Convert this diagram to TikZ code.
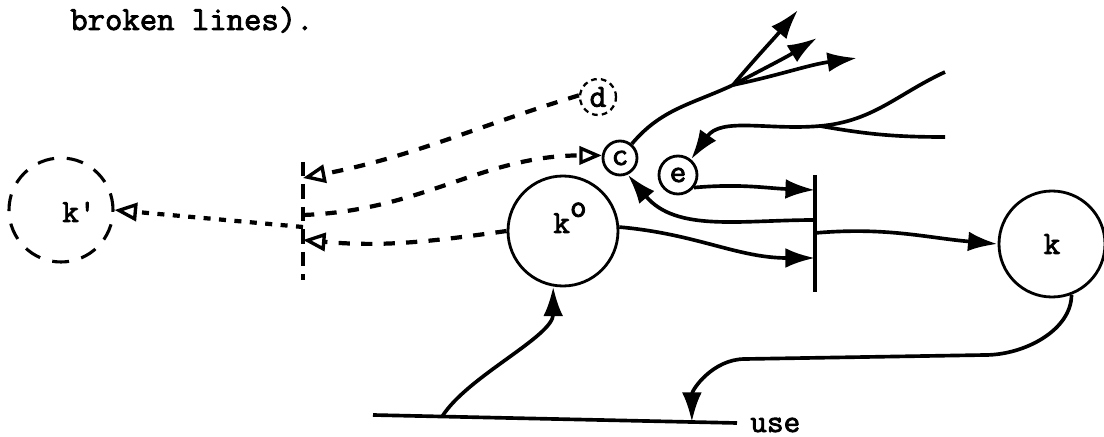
\documentclass[tikz,border=0pt]{standalone}
\usepackage{fontspec}
\newfontfamily\typer{Latin Modern Mono}[FakeBold=2.5]
\usetikzlibrary{arrows.meta}

\begin{document}
\begin{tikzpicture}[x=0.25mm, y=0.25mm,
    every node/.style={font=\typer\fontsize{23}{27}\selectfont},
    pool/.style={circle, draw, line width=2pt, inner sep=0pt},
    ghost/.style={circle, draw, line width=2.2pt, inner sep=0pt, dash pattern=on 12pt off 9pt},
    wire/.style={line width=2.6pt},
    flow/.style={line width=2.6pt, -{Latex[length=21pt, width=14pt]}},
    info/.style={line width=3pt, dash pattern=on 8pt off 8pt,
                 -{Triangle[open, length=16pt, width=13pt, line width=2.4pt]}}]
    \useasboundingbox (0,0) rectangle (1104,437);

    \node[anchor=base west, inner sep=0pt, font=\typer\fontsize{24}{28}\selectfont]
         (caption) at (70,407) {broken lines).};

    % stocks
    \node[ghost, minimum size=26mm] (kp) at (61,227) {};
    \node[anchor=base west, inner sep=0pt] (kptext) at (62,215) {k\textquotesingle};
    \node[pool, minimum size=27.5mm] (k0) at (563,206) {};
    \node[anchor=base, inner sep=0pt] (k0text) at (570,204) {k\raisebox{0.5em}{o}};
    \node[pool, minimum size=26.5mm] (k) at (1052,193) {k};
    % small processes
    \node[pool, minimum size=8.5mm] (c) at (620,279) {c};
    \node[ghost, minimum size=9mm, line width=1.6pt, dash pattern=on 4pt off 3pt] (d) at (598,340) {d};
    \node[pool, minimum size=9.5mm] (e) at (678,262) {e};

    % bars
    \coordinate (lbtop) at (303,275);
    \coordinate (lbbot) at (303,157);
    \coordinate (lb1)  at (303,259);
    \coordinate (lb2)  at (303,222);
    \coordinate (lb2l) at (303,210);
    \coordinate (lb3)  at (303,197);
    \coordinate (rbtop) at (815,262);
    \coordinate (rbbot) at (815,145);
    \coordinate (rb1) at (815,247);
    \coordinate (rb2) at (815,217);
    \coordinate (rb3) at (815,204);
    \coordinate (rb4) at (815,179);
    \draw[line width=2.6pt, dash pattern=on 10pt off 6pt] (lbtop) -- (lbbot);
    \draw[wire] (rbtop) -- (rbbot);

    % broken lines
    \draw[info] (d.175) to[out=197, in=11] (lb1);
    \draw[info] (lb2) to[out=2, in=180] (c.172);
    \draw[info] (k0.west) to[out=188, in=-5] (lb3);
    \draw[info, dash pattern=on 5pt off 6pt] (lb2l) -- (kp.east);

    % outputs of c
    \coordinate (split) at (733,352);
    \coordinate (b1) at (798,427);
    \coordinate (b2) at (817,399);
    \coordinate (b3) at (857,379);
    \draw[wire] (c.50) to[out=50, in=205] (split);
    \draw[flow] (split) to[out=50, in=230] (b1);
    \draw[flow] (split) to[out=28, in=212] (b2);
    \draw[flow] (split) to[out=12, in=188] (b3);

    % inputs of e
    \coordinate (in1) at (945,365);
    \coordinate (in2) at (945,300);
    \coordinate (merge) at (820,311);
    \draw[flow] (in1) to[out=205, in=5] (merge) to[out=185, in=55] (e.50);
    \draw[wire] (in2) to[out=180, in=-10] (merge);

    \draw[flow] (e.-38) to[out=5, in=178] (rb1);
    \draw[flow] (rb2) to[out=180, in=-50] (c.-65);
    \draw[flow] (k0.4) to[out=-5, in=180] (rb4);
    \draw[flow] (rb3) to[out=5, in=175] (k.west);

    % use line
    \coordinate (use1) at (373,22);
    \coordinate (use2) at (737,14);
    \draw[wire] (use1) -- coordinate[pos=0.19] (usefoot) coordinate[pos=0.876] (usein) (use2);
    \node[anchor=base west, inner sep=0pt] (uselbl) at (750,5) {use};
    \draw[flow] (usefoot) .. controls +(25,40) and +(0,-50) .. (k0.-100);

    \coordinate (back) at (985,82);
    \coordinate (bend) at (745,78);
    \draw[flow] (k.-69) .. controls +(0,-35) and +(40,0) .. (back) -- (bend)
        to[out=180, in=90] (usein);
\end{tikzpicture}
\end{document}
